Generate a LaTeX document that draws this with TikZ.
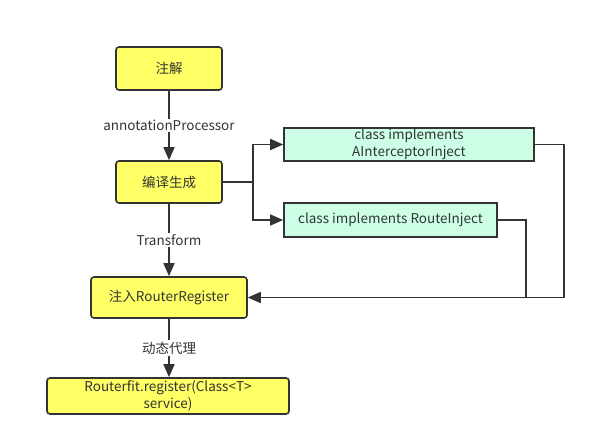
\documentclass[tikz,border=0pt]{standalone}
\usepackage{fontspec}
\setmainfont{Noto Sans CJK SC}
\usetikzlibrary{arrows.meta}
\definecolor{ybox}{HTML}{FFFF66}
\definecolor{gbox}{HTML}{CCFFE6}
\definecolor{ln}{HTML}{333333}
\begin{document}
\begin{tikzpicture}[x=1pt,y=-1pt,
  every node/.style={font=\fontsize{13.5}{16.5}\selectfont, text=ln},
  ybx/.style={draw=ln, line width=1.6pt, fill=ybox, rounded corners=3pt, inner sep=0pt, align=center},
  gbx/.style={draw=ln, line width=1.6pt, fill=gbox, inner sep=0pt, align=center},
  conn/.style={draw=ln, line width=1.6pt},
  arr/.style={conn, -{Triangle[length=13pt,width=11pt]}},
  lbl/.style={fill=white, inner sep=1.5pt}]
\fill[white] (0,0) rectangle (595,446);
\useasboundingbox (0,0) rectangle (595,446);
\node[ybx, minimum width=106pt, minimum height=43pt] (n1) at (169,68.5) {注解};
\node[ybx, minimum width=106pt, minimum height=42pt] (n2) at (169,182) {编译生成};
\node[gbx, minimum width=250pt, minimum height=33pt] (g1) at (409,144.5) {class implements\\AInterceptorInject};
\node[gbx, minimum width=213pt, minimum height=34pt] (g2) at (390.5,220) {class implements RouteInject};
\node[ybx, minimum width=156pt, minimum height=41pt] (n3) at (169,297.5) {注入RouterRegister};
\node[ybx, minimum width=242pt, minimum height=36pt] (n4) at (168,396) {Routerfit.register(Class<T>\\service)};
\draw[arr] (n1) -- node[lbl] (l1) {annotationProcessor} (n2);
\draw[arr] (n2) -- node[lbl] (l2) {Transform} (n3);
\draw[arr] (n3.south) -- node[lbl] (l3) {动态代理} (n3.south |- n4.north);
\coordinate (b) at (253,182);
\draw[conn] (n2.east) -- (b);
\draw[arr] (b) |- (g1.west);
\draw[arr] (b) |- (g2.west);
\coordinate (r1) at (564,297.5);
\coordinate (r2) at (526,297.5);
\draw[arr] (g1.east) -| (r1) -- (n3.east);
\draw[conn] (g2.east) -| (r2);
\end{tikzpicture}
\end{document}
